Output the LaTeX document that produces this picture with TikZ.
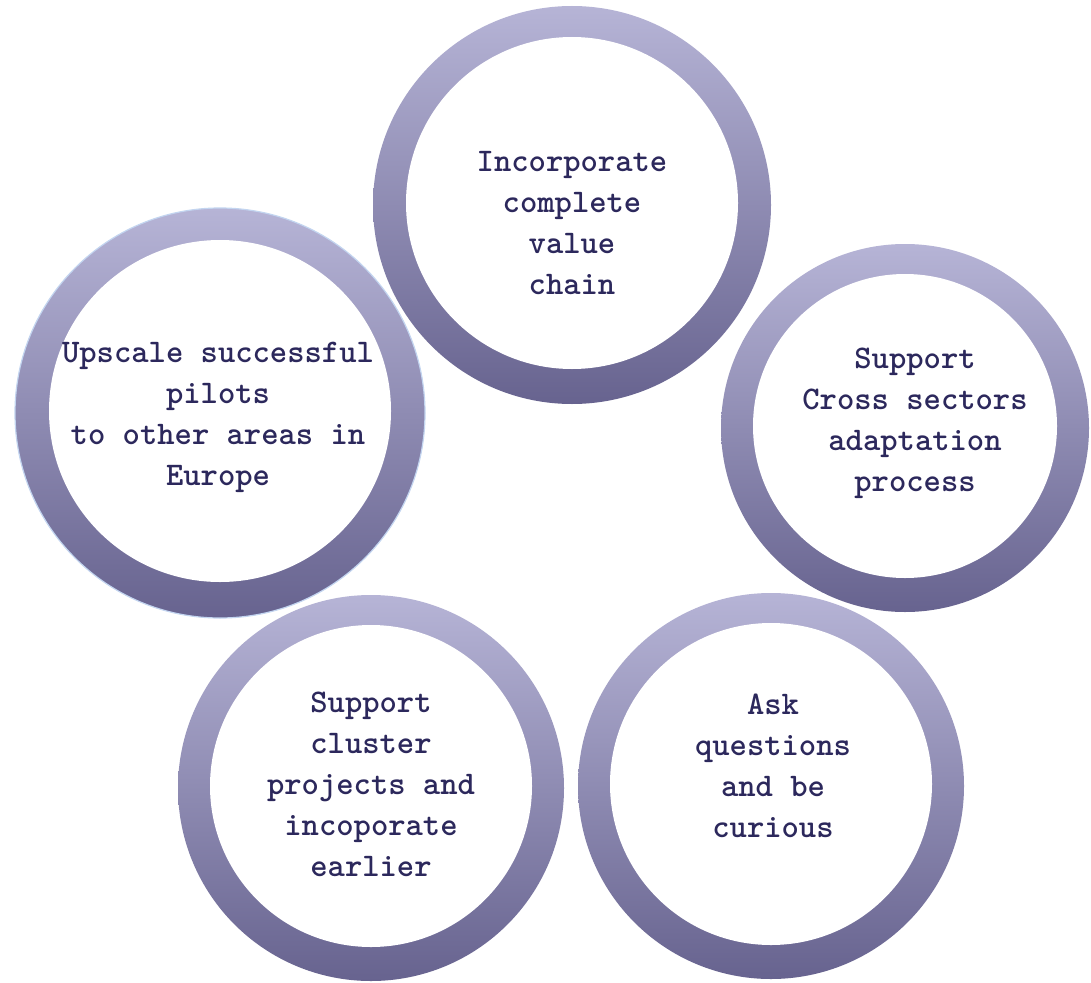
\documentclass[tikz,border=0pt]{standalone}
\usepackage{fontspec}
\definecolor{ringtop}{HTML}{B6B4D6}
\definecolor{ringbot}{HTML}{67638F}
\definecolor{ink}{HTML}{2C285C}
\definecolor{edgeblue}{HTML}{C3D5F0}
\tikzset{
  ring/.style={circle, inner sep=0pt, outer sep=0pt, draw=none, shade, top color=ringtop, bottom color=ringbot},
  core/.style={circle, inner sep=0pt, outer sep=0pt, draw=none, fill=white},
  txt/.style={align=center, text=ink, inner sep=0pt, font=\fontsize{33}{41}\selectfont\ttfamily\bfseries}
}
\begin{document}
\begin{tikzpicture}[x=1pt,y=-1pt]
\useasboundingbox[fill=white] (0,0) rectangle (1091,982);
% top
\node[ring, minimum size=398pt] (topring) at (572,205) {};
\node[core, minimum size=332pt] (topcore) at (572,203) {};
\node[txt] (toptext) at (572,223) {Incorporate\\complete\\value\\chain};
% left
\node[ring, minimum size=410pt, draw=edgeblue, line width=1.2pt] (leftring) at (220,413) {};
\node[core, minimum size=342pt] (leftcore) at (220,411) {};
\node[txt] (lefttext) at (218,417) {Upscale successful\\pilots\\to other areas in\\Europe};
% right
\node[ring, minimum size=368pt] (rightring) at (905,428) {};
\node[core, minimum size=304pt] (rightcore) at (905,426) {};
\node[txt] (righttext) at (915,423) {Support\\Cross sectors\\adaptation\\process};
% bottom left
\node[ring, minimum size=386pt] (blring) at (371,788) {};
\node[core, minimum size=322pt] (blcore) at (371,786) {};
\node[txt] (bltext) at (371,784) {Support\\cluster\\projects and\\incoporate\\earlier};
% bottom right
\node[ring, minimum size=386pt] (brring) at (771,786) {};
\node[core, minimum size=322pt] (brcore) at (771,784) {};
\node[txt] (brtext) at (773,766) {Ask\\questions\\and be\\curious};
\end{tikzpicture}
\end{document}
